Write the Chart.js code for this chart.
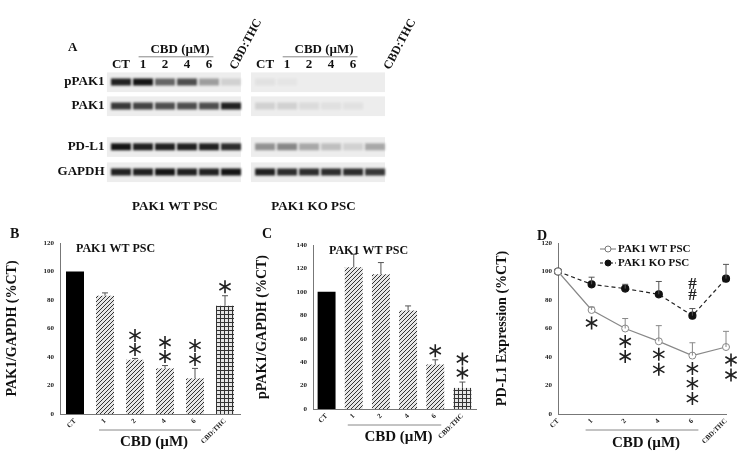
<!DOCTYPE html>
<html>
<head>
<meta charset="utf-8">
<script src="https://cdn.jsdelivr.net/npm/chart.js@4.4.1/dist/chart.umd.min.js"></script>
<style>
  body { margin: 0; background: #fff; }
  #page { position: relative; width: 742px; height: 460px; overflow: hidden; }
  canvas { position: absolute; }
</style>
</head>
<body>
<div id="page">
  <canvas id="blot"></canvas>
  <canvas id="chartB"></canvas>
  <canvas id="chartC"></canvas>
  <canvas id="chartD"></canvas>
</div>
<script>
// ---- data ----
const lanes = ["CT", "1", "2", "4", "6", "CBD:THC"];
const blotRows = ["pPAK1", "PAK1", "PD-L1", "GAPDH"];
const blotRowPos = [0, 1, 2.7, 3.75];
const KO_OFFSET = 6.55;
// band intensity 0..1 per row, per lane
const wtBands = [
  [0.9, 0.95, 0.6, 0.7, 0.35, 0.12],
  [0.8, 0.75, 0.7, 0.7, 0.7, 0.9],
  [0.95, 0.9, 0.9, 0.9, 0.9, 0.85],
  [0.9, 0.9, 0.95, 0.9, 0.9, 0.95],
];
const koBands = [
  [0.05, 0.03, 0, 0, 0, 0],
  [0.12, 0.12, 0.08, 0.06, 0.05, 0],
  [0.4, 0.45, 0.3, 0.2, 0.12, 0.3],
  [0.9, 0.85, 0.85, 0.85, 0.85, 0.8],
];

const pak1Values = [100, 83, 38, 32, 25, 76];
const pak1Errors = [0, 2, 1, 2, 7, 7];
const pak1Stars = [0, 0, 2, 2, 2, 1];

const ppak1Values = [100, 121, 115, 84, 38, 18];
const ppak1Errors = [0, 11, 10, 4, 4, 5];
const ppak1Stars = [0, 0, 0, 0, 1, 2];

const wtPdl1 = [100, 73, 60, 51, 41, 47];
const wtPdl1Err = [0, 2, 7, 11, 9, 11];
const koPdl1 = [100, 91, 88, 84, 69, 95];
const koPdl1Err = [0, 5, 3, 9, 5, 10];
const pdl1Stars = [0, 1, 2, 2, 3, 2];
const koHash = [0, 0, 0, 0, 2, 0];

const SERIF = "'Liberation Serif', 'DejaVu Serif', serif";

function sizeCanvas(id, left, top, w, h) {
  const c = document.getElementById(id);
  c.style.left = left + "px";
  c.style.top = top + "px";
  c.style.width = w + "px";
  c.style.height = h + "px";
  c.width = w;
  c.height = h;
  return c;
}

function makePattern(kind) {
  const p = document.createElement("canvas");
  p.width = 4;
  p.height = 4;
  const g = p.getContext("2d");
  g.fillStyle = "#e6e6e6";
  g.fillRect(0, 0, 4, 4);
  g.fillStyle = "#333";
  if (kind === "diag") {
    for (let i = 0; i < 4; i++) g.fillRect(i, 3 - i, 1, 1);
  } else {
    g.fillRect(0, 0, 4, 1);
    g.fillRect(0, 0, 1, 4);
  }
  return p.getContext("2d").createPattern(p, "repeat");
}

function drawStar(ctx, x, y, size) {
  ctx.save();
  ctx.strokeStyle = "#222";
  ctx.lineWidth = 1.6;
  ctx.beginPath();
  for (let k = 0; k < 3; k++) {
    const a = Math.PI / 2 + (k * Math.PI) / 3;
    ctx.moveTo(x - Math.cos(a) * size, y - Math.sin(a) * size);
    ctx.lineTo(x + Math.cos(a) * size, y + Math.sin(a) * size);
  }
  ctx.stroke();
  ctx.restore();
}

const errorBars = {
  id: "errorBars",
  afterDatasetsDraw(chart) {
    const ctx = chart.ctx;
    chart.data.datasets.forEach((ds, di) => {
      if (!ds.errors) return;
      const meta = chart.getDatasetMeta(di);
      const y = chart.scales.y;
      ctx.save();
      ctx.strokeStyle = ds.errColor || "#555";
      ctx.lineWidth = 1;
      meta.data.forEach((el, i) => {
        if (!ds.errors[i]) return;
        const v = ds.data[i];
        const top = y.getPixelForValue(v + ds.errors[i]);
        ctx.beginPath();
        ctx.moveTo(el.x, y.getPixelForValue(v));
        ctx.lineTo(el.x, top);
        ctx.moveTo(el.x - 3, top);
        ctx.lineTo(el.x + 3, top);
        ctx.stroke();
      });
      ctx.restore();
    });
  },
};

// stars above bars, CBD underline, in-chart title
function barDecor(title, stars, letter, letterX) {
  return {
    id: "barDecor",
    afterDraw(chart) {
      const ctx = chart.ctx;
      const ds = chart.data.datasets[0];
      const meta = chart.getDatasetMeta(0);
      const y = chart.scales.y;
      meta.data.forEach((el, i) => {
        const top = y.getPixelForValue(ds.data[i] + ds.errors[i]);
        for (let s = 0; s < stars[i]; s++) drawStar(ctx, el.x, top - 9 - s * 14, 6.5);
      });
      const a = chart.chartArea;
      ctx.save();
      ctx.fillStyle = "#111";
      ctx.font = "bold 12px " + SERIF;
      ctx.textBaseline = "middle";
      ctx.fillText(title, a.left + 16, a.top + 6);
      ctx.font = "bold 14px " + SERIF;
      ctx.fillText(letter, letterX, 8);
      const x1 = meta.data[1].x - 6, x4 = meta.data[4].x + 6;
      ctx.strokeStyle = "#888";
      ctx.lineWidth = 1;
      ctx.beginPath();
      ctx.moveTo(x1, a.bottom + 16);
      ctx.lineTo(x4, a.bottom + 16);
      ctx.stroke();
      ctx.font = "bold 15px " + SERIF;
      ctx.textAlign = "center";
      ctx.fillText("CBD (\u00b5M)", (x1 + x4) / 2 + 4, a.bottom + 28);
      ctx.restore();
    },
  };
}

function axisCommon(h, w, yMax, step, title) {
  return {
    x: {
      grid: { display: false, drawTicks: true, tickLength: 3 },
      border: { color: "#777" },
      ticks: { color: "#222", font: { size: 7, family: SERIF, weight: "bold" }, minRotation: 45, maxRotation: 45, padding: 0 },
      afterFit(s) { s.height = h; },
    },
    y: {
      min: 0,
      max: yMax,
      grid: { display: false, tickLength: 3 },
      border: { color: "#777" },
      ticks: { stepSize: step, color: "#222", font: { size: 7, family: SERIF, weight: "bold" }, padding: 3 },
      title: { display: true, text: title, color: "#111", font: { size: 14, family: SERIF, weight: "bold" }, padding: 0 },
      afterFit(s) { s.width = w; },
    },
  };
}

Chart.defaults.animation = false;
Chart.defaults.responsive = false;
Chart.defaults.plugins.legend.display = false;
Chart.defaults.plugins.tooltip.enabled = false;

const diag = makePattern("diag");
const grid = makePattern("grid");
const barColors = lanes.map((_, i) => (i === 0 ? "#000" : i === 5 ? grid : diag));

// ---- panel A: blots ----
const blotData = [];
function pushBands(bands, offset) {
  bands.forEach((row, r) => {
    row.forEach((v, l) => {
      if (v > 0) blotData.push({ x: l + offset, y: blotRowPos[r], a: v });
    });
  });
}
pushBands(wtBands, 0);
pushBands(koBands, KO_OFFSET);

const blotDecor = {
  id: "blotDecor",
  beforeDatasetsDraw(chart) {
    const ctx = chart.ctx;
    const x = chart.scales.x, y = chart.scales.y;
    ctx.save();
    ctx.fillStyle = "#ededed";
    [0, KO_OFFSET].forEach((off) => {
      blotRowPos.forEach((r) => {
        const l = x.getPixelForValue(off - 0.64), rr = x.getPixelForValue(off + 5.45);
        const t = y.getPixelForValue(r - 0.4), b = y.getPixelForValue(r + 0.42);
        ctx.fillRect(l, t, rr - l, b - t);
      });
    });
    ctx.restore();
    ctx.save();
    ctx.filter = "blur(0.8px)";
  },
  afterDatasetsDraw(chart) {
    chart.ctx.restore();
  },
  afterDraw(chart) {
    const ctx = chart.ctx;
    const x = chart.scales.x, y = chart.scales.y;
    ctx.save();
    ctx.fillStyle = "#111";
    ctx.font = "bold 13px " + SERIF;
    ctx.textBaseline = "middle";
    ctx.textAlign = "right";
    blotRows.forEach((name, r) => ctx.fillText(name, x.getPixelForValue(-0.75), y.getPixelForValue(blotRowPos[r])));
    ctx.textAlign = "left";
    ctx.fillText("A", 68, y.getPixelForValue(-1.45));
    ctx.textAlign = "center";
    [0, KO_OFFSET].forEach((off) => {
      lanes.forEach((lab, l) => {
        const px = x.getPixelForValue(off + l);
        const py = y.getPixelForValue(-0.72);
        if (l === 5) {
          ctx.save();
          ctx.translate(px + 2 + (off ? 10 : 0), py + 4);
          ctx.rotate(-Math.PI / 2.9);
          ctx.font = "bold 12px " + SERIF;
          ctx.textAlign = "left";
          ctx.fillText(lab, 0, 0);
          ctx.restore();
        } else {
          ctx.fillText(lab, px, py);
        }
      });
      const x1 = x.getPixelForValue(off + 0.8), x4 = x.getPixelForValue(off + 4.2);
      ctx.fillText("CBD (\u00b5M)", (x1 + x4) / 2 + 4, y.getPixelForValue(-1.33));
      ctx.strokeStyle = "#888";
      ctx.beginPath();
      ctx.moveTo(x1, y.getPixelForValue(-1.05));
      ctx.lineTo(x4, y.getPixelForValue(-1.05));
      ctx.stroke();
    });
    ctx.font = "bold 13px " + SERIF;
    ctx.fillText("PAK1 WT PSC", x.getPixelForValue(2.45), y.getPixelForValue(5.2));
    ctx.fillText("PAK1 KO PSC", x.getPixelForValue(KO_OFFSET + 2.2), y.getPixelForValue(5.2));
    ctx.restore();
  },
};

new Chart(sizeCanvas("blot", 0, 0, 420, 230), {
  type: "scatter",
  data: {
    datasets: [{
      data: blotData,
      pointStyle: "line",
      pointRadius: 10,
      borderWidth: 7,
      borderColor: blotData.map((p) => `rgba(10,10,10,${p.a})`),
    }],
  },
  options: {
    layout: { padding: 0, autoPadding: false },
    scales: {
      x: { display: false, min: -121 / 22, max: (420 - 121) / 22 },
      y: { display: false, reverse: true, min: -82 / 24, max: (230 - 82) / 24 },
    },
  },
  plugins: [blotDecor],
});

// ---- panel B ----
new Chart(sizeCanvas("chartB", 0, 226, 250, 234), {
  type: "bar",
  data: {
    labels: lanes,
    datasets: [{ data: pak1Values, errors: pak1Errors, backgroundColor: barColors, barPercentage: 0.6, categoryPercentage: 1 }],
  },
  options: {
    layout: { padding: { top: 17, right: 10, left: 4 } },
    scales: axisCommon(46, 56, 120, 20, "PAK1/GAPDH (%CT)"),
  },
  plugins: [errorBars, barDecor("PAK1 WT PSC", pak1Stars, "B", 10)],
});

// ---- panel C ----
new Chart(sizeCanvas("chartC", 250, 226, 240, 234), {
  type: "bar",
  data: {
    labels: lanes,
    datasets: [{ data: ppak1Values, errors: ppak1Errors, backgroundColor: barColors, barPercentage: 0.66, categoryPercentage: 1 }],
  },
  options: {
    layout: { padding: { top: 19, right: 14, left: 4 } },
    scales: axisCommon(51, 59, 140, 20, "pPAK1/GAPDH (%CT)"),
  },
  plugins: [errorBars, barDecor("PAK1 WT PSC", ppak1Stars, "C", 12)],
});

// ---- panel D ----
const dDecor = {
  id: "dDecor",
  afterDraw(chart) {
    const ctx = chart.ctx;
    const a = chart.chartArea;
    const wt = chart.getDatasetMeta(0).data;
    const ko = chart.getDatasetMeta(1).data;
    wt.forEach((el, i) => {
      for (let s = 0; s < pdl1Stars[i]; s++) drawStar(ctx, el.x + (i === 5 ? 5 : 0), el.y + 13 + s * 15, 6.5);
    });
    ctx.save();
    ctx.fillStyle = "#222";
    ctx.font = "bold 17px " + SERIF;
    ctx.textAlign = "center";
    ctx.textBaseline = "middle";
    ko.forEach((el, i) => {
      for (let s = 0; s < koHash[i]; s++) ctx.fillText("#", el.x, el.y - 31 + s * 11);
    });
    // legend
    ctx.font = "bold 11px " + SERIF;
    ctx.textAlign = "left";
    const items = [
      { t: "PAK1 WT PSC", c: "#777", fill: "#fff", dash: [] },
      { t: "PAK1 KO PSC", c: "#111", fill: "#111", dash: [3, 2] },
    ];
    items.forEach((it, k) => {
      const ly = a.top + 6 + k * 14;
      const lx = a.left + 50;
      ctx.strokeStyle = it.c;
      ctx.setLineDash(it.dash);
      ctx.beginPath();
      ctx.moveTo(lx - 8, ly);
      ctx.lineTo(lx + 8, ly);
      ctx.stroke();
      ctx.setLineDash([]);
      ctx.beginPath();
      ctx.arc(lx, ly, 3, 0, Math.PI * 2);
      ctx.fillStyle = it.fill;
      ctx.fill();
      ctx.stroke();
      ctx.fillStyle = "#111";
      ctx.fillText(it.t, lx + 10, ly);
    });
    const x1 = wt[1].x - 6, x4 = wt[4].x + 6;
    ctx.strokeStyle = "#888";
    ctx.beginPath();
    ctx.moveTo(x1, a.bottom + 16);
    ctx.lineTo(x4, a.bottom + 16);
    ctx.stroke();
    ctx.font = "bold 15px " + SERIF;
    ctx.textAlign = "center";
    ctx.fillStyle = "#111";
    ctx.fillText("CBD (\u00b5M)", (x1 + x4) / 2 + 4, a.bottom + 29);
    ctx.font = "bold 14px " + SERIF;
    ctx.fillText("D", 52, 10);
    ctx.restore();
  },
};

new Chart(sizeCanvas("chartD", 490, 226, 252, 234), {
  type: "line",
  data: {
    labels: lanes,
    datasets: [
      { data: wtPdl1, errors: wtPdl1Err, errColor: "#888", borderColor: "#888", borderWidth: 1.2, pointBackgroundColor: "#fff", pointBorderColor: "#888", pointRadius: 3.5, pointBorderWidth: 1 },
      { data: koPdl1, errors: koPdl1Err, errColor: "#555", borderColor: "#222", borderWidth: 1.2, borderDash: [4, 3], pointBackgroundColor: "#111", pointBorderColor: "#111", pointRadius: 3.5 },
    ],
  },
  options: {
    layout: { padding: { top: 17, right: 16, left: 4 } },
    scales: axisCommon(46, 64, 120, 20, "PD-L1 Expression (%CT)"),
  },
  plugins: [errorBars, dDecor],
});
</script>
</body>
</html>
